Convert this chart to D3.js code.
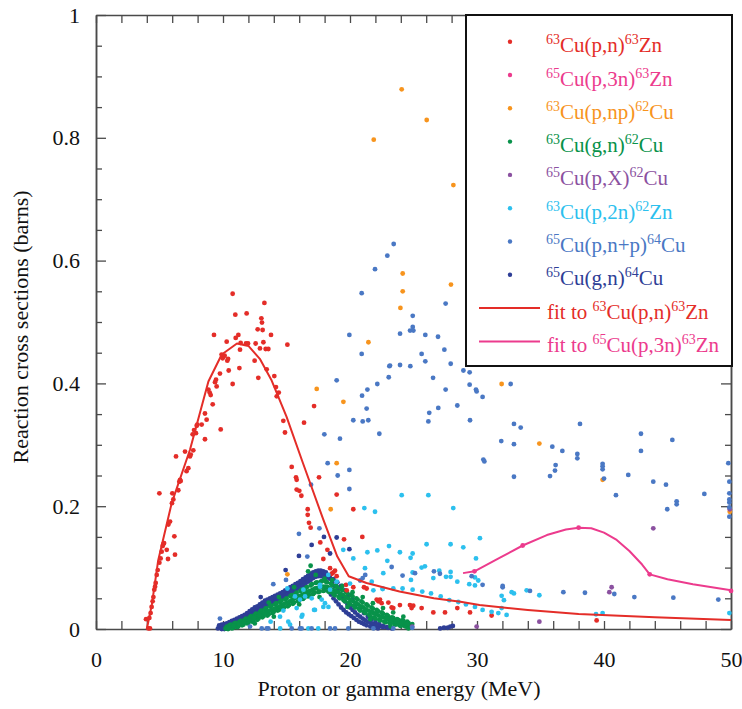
<!DOCTYPE html>
<html>
<head>
<meta charset="utf-8">
<script src="https://cdn.jsdelivr.net/npm/d3@7"></script>
<style>
body { margin: 0; background: #fff; }
</style>
</head>
<body>
<svg id="chart" width="742" height="709" font-family="Liberation Serif"></svg>
<script>
// ---- data (energy in MeV, cross section in barns) ----
var xTicks = [0, 10, 20, 30, 40, 50];
var xMinorTicks = [0, 2, 4, 6, 8, 10, 12, 14, 16, 18, 20, 22, 24, 26, 28, 30, 32, 34, 36, 38, 40, 42, 44, 46, 48, 50];
var yTicks = [0, 0.2, 0.4, 0.6, 0.8, 1];
var yMinorTicks = [0.05, 0.1, 0.15, 0.25, 0.3, 0.35, 0.45, 0.5, 0.55, 0.65, 0.7, 0.75, 0.85, 0.9, 0.95];

var seriesLabels = ["^63Cu(p,n)^63Zn", "^65Cu(p,3n)^63Zn", "^63Cu(p,np)^62Cu", "^63Cu(g,n)^62Cu",
    "^65Cu(p,X)^62Cu", "^63Cu(p,2n)^62Zn", "^65Cu(p,n+p)^64Cu", "^65Cu(g,n)^64Cu"];
var seriesColors = ["#e42d28", "#ec3b8d", "#f7941d", "#08924a", "#8b51a0", "#2cc0ee", "#4a78c4", "#2e3e96"];
var fitLabels = ["fit to ^63Cu(p,n)^63Zn", "fit to ^65Cu(p,3n)^63Zn"];
var fitColors = ["#e42d28", "#ec3b8d"];

var cu63pn = [[3.94,0.016],[4.12,0.001],[4.25,0.001],[4.2,0.018],[4.3,0.026],[4.38,0.036],[4.46,0.045],[4.52,0.052],
    [4.59,0.064],[4.65,0.069],[4.7,0.075],[4.78,0.088],[4.86,0.096],[4.99,0.108],[5.09,0.115],[5.17,0.126],[5.25,0.135],
    [5.3,0.138],[5.36,0.14],[4.99,0.221],[5.57,0.129],[5.67,0.114],[5.7,0.17],[5.83,0.175],[5.98,0.205],[6.01,0.221],
    [6.09,0.211],[6.17,0.151],[6.22,0.121],[6.3,0.281],[6.48,0.226],[6.56,0.24],[6.67,0.241],[6.62,0.243],[7.01,0.289],
    [7.13,0.257],[7.27,0.262],[7.4,0.281],[7.46,0.284],[7.66,0.291],[7.61,0.317],[7.72,0.324],[7.93,0.331],[7.87,0.319],
    [7.98,0.333],[8.32,0.333],[8.58,0.309],[8.58,0.351],[8.71,0.341],[8.85,0.39],[8.95,0.385],[9.03,0.381],[9.19,0.366],
    [9.29,0.479],[9.37,0.402],[9.45,0.406],[9.5,0.395],[9.76,0.416],[9.82,0.325],[9.89,0.447],[9.97,0.441],[10.13,0.445],
    [10.29,0.468],[10.34,0.437],[10.4,0.44],[10.45,0.421],[10.76,0.399],[10.76,0.546],[10.97,0.512],[11.0,0.474],
    [11.21,0.479],[11.29,0.425],[11.34,0.455],[11.39,0.466],[11.86,0.514],[11.81,0.465],[11.97,0.465],[12.49,0.437],
    [12.57,0.465],[12.73,0.488],[12.78,0.409],[12.91,0.457],[13.02,0.506],[13.07,0.499],[13.12,0.487],[13.18,0.467],
    [13.26,0.531],[13.36,0.456],[13.44,0.423],[13.57,0.456],[13.78,0.479],[14.04,0.412],[14.17,0.394],[14.23,0.379],
    [14.39,0.385],[14.75,0.339],[14.88,0.32],[15.07,0.463],[15.41,0.264],[15.75,0.247],[15.8,0.243],[15.8,0.227],
    [16.01,0.225],[16.17,0.217],[16.38,0.336],[16.67,0.195],[16.67,0.186],[16.77,0.173],[16.9,0.165],[17.17,0.363],
    [17.56,0.247],[17.66,0.141],[17.9,0.114],[18.22,0.129],[18.95,0.219],[18.43,0.099],[18.56,0.09],[18.69,0.092],
    [18.82,0.095],[18.95,0.086],[19.53,0.146],[19.69,0.072],[19.74,0.063],[20.26,0.195],[20.26,0.068],[20.97,0.15],
    [21.1,0.068],[21.31,0.066],[22.1,0.048],[22.23,0.045],[22.36,0.048],[22.49,0.042],[23.02,0.043],[23.28,0.035],
    [23.41,0.034],[23.93,0.039],[24.72,0.039],[24.85,0.034],[24.98,0.038],[25.64,0.034],[26.56,0.027],[27.48,0.027],
    [28.45,0.034],[29.45,0.027],[31.15,0.022],[39.42,0.014]];

var cu65p3n = [[29.8,0.094],[33.6,0.136],[38.0,0.165],[43.6,0.089],[50.0,0.062]];

var cu63pnp = [[15.07,0.089],[17.38,0.391],[18.48,0.195],[18.95,0.270],[19.48,0.370],[21.45,0.467],[21.87,0.797],
    [23.97,0.523],[24.07,0.879],[24.15,0.550],[24.15,0.579],[26.04,0.829],[27.95,0.561],[28.14,0.723],[31.94,0.399],
    [34.91,0.302],[39.89,0.243],[49.9,0.191]];

var cu63gn = [[10.2,0.001],[10.3,0.004],[10.4,0.000],[10.5,0.006],[10.6,0.007],[10.7,0.001],[10.8,0.002],[10.9,0.009],
    [11.0,0.010],[11.1,0.003],[11.2,0.004],[11.3,0.012],[11.4,0.013],[11.5,0.006],[11.6,0.007],[11.7,0.015],[11.8,0.017],
    [11.9,0.009],[12.0,0.010],[12.1,0.019],[12.2,0.021],[12.3,0.012],[12.4,0.013],[12.5,0.023],[12.6,0.025],[12.7,0.015],
    [12.8,0.017],[12.9,0.027],[13.0,0.030],[13.1,0.019],[13.2,0.021],[13.3,0.032],[13.4,0.034],[13.5,0.022],[13.6,0.024],
    [13.7,0.037],[13.8,0.038],[13.9,0.026],[14.0,0.028],[14.1,0.040],[14.2,0.042],[14.3,0.030],[14.4,0.031],[14.5,0.044],
    [14.6,0.046],[14.7,0.033],[14.8,0.035],[14.9,0.048],[15.0,0.050],[15.1,0.037],[15.2,0.039],[15.3,0.053],[15.4,0.055],
    [15.5,0.041],[15.6,0.043],[15.7,0.057],[15.8,0.059],[15.9,0.045],[16.0,0.047],[16.1,0.062],[16.2,0.064],[16.3,0.049],
    [16.4,0.051],[16.5,0.066],[16.6,0.068],[16.7,0.053],[16.8,0.055],[16.9,0.071],[17.0,0.073],[17.1,0.057],[17.2,0.059],
    [17.3,0.075],[17.4,0.076],[17.5,0.060],[17.6,0.061],[17.7,0.077],[17.8,0.078],[17.9,0.062],[18.0,0.063],[18.1,0.077],
    [18.2,0.076],[18.3,0.061],[18.4,0.060],[18.5,0.074],[18.6,0.072],[18.7,0.057],[18.8,0.055],[18.9,0.070],[19.0,0.068],
    [19.1,0.052],[19.2,0.050],[19.3,0.065],[19.4,0.063],[19.5,0.047],[19.6,0.045],[19.7,0.060],[19.8,0.058],[19.9,0.042],
    [20.0,0.040],[20.1,0.055],[20.2,0.053],[20.3,0.038],[20.4,0.035],[20.5,0.050],[20.6,0.048],[20.7,0.033],[20.8,0.030],
    [20.9,0.045],[21.0,0.043],[21.1,0.028],[21.2,0.026],[21.3,0.040],[21.4,0.038],[21.5,0.023],[21.6,0.021],[21.7,0.035],
    [21.8,0.033],[21.9,0.019],[22.0,0.017],[22.1,0.031],[22.2,0.029],[22.3,0.015],[22.4,0.014],[22.5,0.027],[22.6,0.025],
    [22.7,0.012],[22.8,0.011],[22.9,0.023],[23.0,0.021],[23.1,0.010],[23.2,0.009],[23.3,0.019],[23.4,0.018],[23.5,0.008],
    [23.6,0.007],[23.7,0.016],[23.8,0.015],[23.9,0.006],[24.0,0.005],[24.1,0.014],[24.2,0.013],[24.3,0.005],[24.4,0.004],
    [24.5,0.012],[24.6,0.010],[24.7,0.003],[24.8,0.003],[24.9,0.008],
    [10.25,0.001],[10.65,0.003],[11.05,0.006],[11.45,0.009],[11.85,0.012],[12.25,0.016],[12.65,0.020],[13.05,0.024],
    [13.45,0.028],[13.85,0.032],[14.25,0.035],[14.65,0.039],[15.05,0.043],[15.45,0.047],[15.85,0.052],[16.25,0.056],
    [16.65,0.060],[17.05,0.064],[17.45,0.067],[17.85,0.069],[18.25,0.068],[18.65,0.064],[19.05,0.060],[19.45,0.055],
    [19.85,0.050],[20.25,0.045],[20.65,0.040],[21.05,0.035],[21.45,0.030],[21.85,0.026],[22.25,0.022],[22.65,0.019],
    [23.05,0.016],[23.45,0.013],[23.85,0.011],[24.25,0.009],[24.65,0.007],[10.45,0.002],[10.85,0.005],[11.25,0.008],
    [11.65,0.011],[12.05,0.014],[12.45,0.018],[12.85,0.022],[13.25,0.026],[13.65,0.030],[14.05,0.033],[14.45,0.037],
    [14.85,0.041],[15.25,0.045],[15.65,0.050],[16.05,0.054],[16.45,0.058],[16.85,0.062],[17.25,0.066],[17.65,0.068],
    [18.05,0.069],[18.45,0.066],[18.85,0.062],[19.25,0.057],[19.65,0.052],[20.05,0.047],[20.45,0.042],[20.85,0.037],
    [21.25,0.032],[21.65,0.028],[22.05,0.024],[22.45,0.020],[22.85,0.017],[23.25,0.014],[23.65,0.012],[24.05,0.010],
    [24.45,0.008],[24.85,0.006],
    [16.9,0.103],[16.7,0.094],[17.3,0.088],[18.0,0.082],[18.6,0.080],[15.6,0.068],[14.4,0.052],[13.6,0.043],[19.4,0.070],
    [20.2,0.060],[21.0,0.052],[21.8,0.042],[22.6,0.034],[23.4,0.027],[24.2,0.020],[12.5,0.009],[14.0,0.020],[16.0,0.040],
    [17.6,0.052],[19.8,0.036],[21.6,0.016],[23.2,0.004],[24.6,0.001]];

var cu65pX = [[24.9,0.004],[29.97,0.004],[34.91,0.012],[40.42,0.06],[40.6,0.068],[43.88,0.164],[49.9,0.195]];

var cu63p2n = [[24.07,0.218],[26.17,0.218],[28.13,0.197],[30.23,0.148],[21.13,0.197],[21.97,0.191],[23.07,0.135],
    [26.03,0.138],[27.92,0.138],[28.92,0.133],[23.93,0.125],[24.93,0.123],[24.77,0.116],[22.94,0.111],[29.92,0.115],
    [25.64,0.1],[25.9,0.102],[24.93,0.092],[24.8,0.08],[26.56,0.083],[27.03,0.095],[27.56,0.085],[27.92,0.085],
    [27.92,0.093],[28.45,0.077],[29.84,0.084],[30.1,0.079],[29.39,0.073],[29.84,0.071],[22.57,0.065],[23.41,0.066],
    [24.14,0.066],[24.93,0.064],[25.69,0.061],[26.38,0.058],[27.14,0.053],[27.82,0.047],[28.53,0.044],[29.13,0.04],
    [29.84,0.036],[30.44,0.031],[31.15,0.028],[31.68,0.026],[32.33,0.023],[31.94,0.034],[31.94,0.054],[32.12,0.047],
    [32.73,0.06],[32.91,0.058],[33.91,0.063],[34.91,0.055],[39.37,0.024],[39.89,0.026],[49.87,0.026],[19.47,0.129],
    [20.26,0.115],[21.37,0.125],[22.15,0.128],[21.18,0.099],[22.62,0.091],[18.95,0.077],[18.29,0.088],[17.64,0.072],
    [18.43,0.064],[20.0,0.074],[16.06,0.048],[15.07,0.066],[15.8,0.034],[17.24,0.031],[17.9,0.036],[18.03,0.042],
    [21.71,0.077],[21.84,0.063],[22.57,0.066],[15.28,0.007],[15.14,0.012],[13.75,0.012],[15.67,0.053],[16.46,0.053],
    [16.98,0.05],[17.77,0.048],[16.25,0.023],[14.75,0.03],[14.49,0.02],[16.19,0.02],[17.17,0.031],[18.3,0.036],
    [16.33,0.064],[17.64,0.069],[16.72,0.001],[14.5,0.001],[17.5,0.001]];

var cu65pnp = [[18.95,0.405],[19.95,0.479],[20.92,0.547],[20.92,0.448],[20.95,0.38],[21.37,0.39],[21.31,0.359],
    [21.97,0.586],[22.15,0.399],[22.31,0.318],[22.94,0.608],[23.05,0.41],[23.10,0.428],[23.15,0.429],[23.44,0.627],
    [23.94,0.481],[23.94,0.43],[24.73,0.486],[24.75,0.428],[24.94,0.51],[24.94,0.492],[24.99,0.486],[25.64,0.448],
    [25.93,0.479],[25.93,0.436],[26.17,0.338],[26.24,0.352],[26.54,0.409],[26.93,0.476],[26.95,0.36],[27.43,0.455],
    [27.53,0.53],[27.53,0.39],[27.93,0.432],[28.45,0.364],[28.93,0.421],[29.42,0.418],[29.42,0.398],[29.45,0.34],
    [29.92,0.39],[29.97,0.387],[30.44,0.378],[30.5,0.276],[30.58,0.273],[31.91,0.306],[32.65,0.399],[32.91,0.334],
    [32.91,0.301],[32.91,0.248],[33.44,0.328],[35.75,0.249],[35.93,0.297],[36.14,0.258],[36.19,0.267],[36.72,0.29],
    [37.9,0.285],[37.9,0.278],[38.11,0.334],[39.89,0.269],[39.89,0.265],[39.89,0.26],[40.0,0.245],[40.94,0.218],
    [41.91,0.251],[42.91,0.318],[42.91,0.29],[43.88,0.24],[44.88,0.235],[44.98,0.195],[45.38,0.308],[45.72,0.208],
    [45.72,0.203],[47.9,0.22],[49.79,0.27],[49.87,0.24],[49.87,0.221],[49.87,0.211],[49.87,0.206],[49.87,0.198],
    [49.87,0.183],[20.26,0.34],[21.0,0.338],[21.44,0.34],[17.98,0.317],[19.21,0.31],[18.24,0.27],[19.03,0.25],
    [19.95,0.259],[19.95,0.228],[16.93,0.235],[17.59,0.164],[15.98,0.155],[16.64,0.118],[13.96,0.073],[14.96,0.08],
    [21.2,0.088],[21.0,0.083],[20.8,0.079],[23.28,0.101],[24.14,0.087],[25.12,0.091],[26.61,0.094],[27.08,0.09],
    [29.58,0.086],[30.44,0.072],[32.02,0.07],[32.02,0.068],[34.17,0.062],[36.8,0.06],[38.5,0.059],[40.81,0.057],
    [42.39,0.052],[45.46,0.051],[49.0,0.048],[12.13,0.004],[13.05,0.001],[13.44,0.001],[13.57,0.001],[15.41,0.001],
    [16.06,0.001],[16.19,0.001],[16.98,0.001],[18.43,0.001],[18.82,0.001],[19.87,0.001],[21.84,0.001],[23.41,0.001],
    [9.76,0.017],[24.9,0.002]];

var cu65gn = [[9.6,0.001],[9.8,0.002],[10.0,0.003],[10.2,0.004],[10.4,0.005],[10.6,0.007],[10.8,0.009],[11.0,0.011],
    [11.2,0.013],[11.4,0.015],[11.6,0.017],[11.8,0.020],[12.0,0.023],[12.2,0.026],[12.4,0.029],[12.6,0.031],[12.8,0.034],
    [13.0,0.037],[13.2,0.040],[13.4,0.042],[13.6,0.044],[13.8,0.046],[14.0,0.048],[14.2,0.050],[14.4,0.052],[14.6,0.054],
    [14.8,0.057],[15.0,0.059],[15.2,0.061],[15.4,0.064],[15.6,0.066],[15.8,0.069],[16.0,0.071],[16.2,0.074],[16.4,0.077],
    [16.6,0.080],[16.8,0.083],[17.0,0.086],[17.2,0.088],[17.4,0.089],[17.6,0.090],[17.8,0.090],[18.0,0.089],[18.2,0.087],
    [9.7,0.006],[9.9,0.007],[10.1,0.008],[10.3,0.009],[10.5,0.011],[10.7,0.013],[10.9,0.015],[11.1,0.017],[11.3,0.019],
    [11.5,0.021],[11.7,0.023],[11.9,0.026],[12.1,0.029],[12.3,0.032],[12.5,0.035],[12.7,0.037],[12.9,0.040],[13.1,0.043],
    [13.3,0.046],[13.5,0.048],[13.7,0.050],[13.9,0.052],[14.1,0.054],[14.3,0.056],[14.5,0.058],[14.7,0.060],[14.9,0.063],
    [15.1,0.065],[15.3,0.068],[15.5,0.070],[15.7,0.073],[15.9,0.075],[16.1,0.078],[16.3,0.081],[16.5,0.084],[16.7,0.087],
    [16.9,0.090],[17.1,0.092],[17.3,0.094],[17.5,0.095],[17.7,0.095],[17.9,0.094],[18.1,0.092],
    [9.9,0.000],[10.1,0.000],[10.3,0.001],[10.5,0.002],[10.7,0.004],[10.9,0.006],[11.1,0.008],[11.3,0.010],[11.5,0.012],
    [11.7,0.014],[11.9,0.017],[12.1,0.020],[12.3,0.023],[12.5,0.026],[12.7,0.028],[12.9,0.031],[13.1,0.034],[13.3,0.037],
    [13.5,0.039],[13.7,0.041],[13.9,0.043],[14.1,0.045],[14.3,0.047],[14.5,0.049],[14.7,0.051],[14.9,0.054],[15.1,0.056],
    [15.3,0.058],[15.5,0.061],[15.7,0.063],[15.9,0.066],[16.1,0.068],[16.3,0.071],[16.5,0.074],[16.7,0.077],[16.9,0.080],
    [17.1,0.083],[17.3,0.085],[17.5,0.086],[17.7,0.086],[17.9,0.085],[18.1,0.083],
    [18.4,0.085],[18.7,0.081],[19.0,0.076],[19.3,0.070],[19.6,0.063],[19.9,0.055],[20.2,0.047],[20.5,0.040],[20.8,0.033],
    [21.1,0.026],[21.4,0.020],[21.7,0.015],[22.0,0.011],[22.3,0.008],[22.6,0.005],[22.9,0.003],
    [18.4,0.082],[18.6,0.076],[18.8,0.070],[19.0,0.063],[19.2,0.057],[19.4,0.051],[19.6,0.045],[19.8,0.040],[20.0,0.035],
    [20.2,0.031],[20.4,0.027],[20.6,0.023],[20.8,0.020],[21.0,0.017],[21.2,0.014],[21.4,0.012],[21.6,0.010],[21.8,0.008],
    [22.0,0.006],[22.3,0.004],[22.6,0.003],[23.0,0.002],[23.3,0.001],
    [18.1,0.068],[18.3,0.062],[18.5,0.056],[18.7,0.050],[18.9,0.045],[19.1,0.040],[19.3,0.035],[19.5,0.031],[19.7,0.027],
    [19.9,0.024],[20.1,0.021],[20.3,0.018],[20.5,0.015],[20.7,0.012],[20.9,0.010],[21.1,0.008],[21.3,0.006],[21.6,0.004],
    [21.9,0.002],[22.2,0.001],
    [12.97,0.052],[14.93,0.096],[15.98,0.119],[16.98,0.137],[17.95,0.150],[18.95,0.149],[18.43,0.123],[19.95,0.130],
    [27.1,0.001],[27.4,0.002],[27.7,0.002],[27.9,0.004],[28.1,0.005]];

var fitPn = [[4.0,0.0],[4.4,0.04],[4.9,0.112],[5.96,0.205],[7.4,0.292],[8.85,0.403],[9.9,0.447],[11.1,0.465],
    [12.0,0.461],[12.9,0.44],[13.8,0.406],[15.0,0.346],[16.3,0.27],[17.9,0.178],[19.0,0.118],[19.9,0.086],[21.3,0.075],
    [23.9,0.061],[26.6,0.05],[28.7,0.0445],[30.2,0.039],[34,0.031],[38,0.0244],[44,0.019],[50,0.0147]];
var fitP3n = [[28.9,0.091],[29.8,0.094],[31.7,0.115],[33.6,0.136],[35.5,0.153],[37,0.162],[38,0.165],[39,0.164],
    [40,0.157],[41,0.145],[42,0.127],[43,0.105],[43.6,0.089],[45,0.081],[47,0.073],[50,0.063]];

var seriesValues = [cu63pn, cu65p3n, cu63pnp, cu63gn, cu65pX, cu63p2n, cu65pnp, cu65gn];
var fitValues = [fitPn, fitP3n];
// photon bands first so the proton points sit on top of them
var drawOrder = [7, 3, 0, 2, 4, 5, 6, 1];

// ---- layout ----
var width = 742, height = 709;
var axisColor = "#4a4a4a";
var fontFamily = "Liberation Serif";

var x = d3.scaleLinear().domain([0, 50]).range([96, 731]);
var y = d3.scaleLinear().domain([0, 1]).range([629, 15]);

var svg = d3.select("#chart");
svg.append("rect").attr("width", width).attr("height", height).attr("fill", "#fff");

function styleAxis(g) {
    g.attr("font-family", fontFamily).attr("font-size", 22).attr("color", "#111");
    g.select(".domain").attr("stroke", axisColor).attr("stroke-width", 1.5);
    g.selectAll(".tick line").attr("stroke", axisColor).attr("stroke-width", 1.3);
    g.selectAll(".tick text").attr("font-family", fontFamily);
}

// x axes (bottom with labels, top ticks only)
svg.append("g").attr("transform", "translate(0,629)")
    .call(d3.axisBottom(x).tickValues(xMinorTicks).tickSize(-8).tickSizeOuter(0).tickPadding(22)
        .tickFormat(d => xTicks.includes(d) ? d : ""))
    .call(styleAxis);
svg.append("g").attr("transform", "translate(0,15)")
    .call(d3.axisTop(x).tickValues(xMinorTicks).tickSize(-8).tickSizeOuter(0).tickFormat(""))
    .call(styleAxis);

// y axes: minor ticks then major ticks with labels
svg.append("g").attr("transform", "translate(96,0)")
    .call(d3.axisLeft(y).tickValues(yMinorTicks).tickSize(-6).tickSizeOuter(0).tickFormat(""))
    .call(styleAxis);
svg.append("g").attr("transform", "translate(96,0)")
    .call(d3.axisLeft(y).tickValues(yTicks).tickSize(-10).tickSizeOuter(0).tickPadding(16).tickFormat(d3.format("~g")))
    .call(styleAxis);
svg.append("g").attr("transform", "translate(731,0)")
    .call(d3.axisRight(y).tickValues(yMinorTicks).tickSize(-6).tickSizeOuter(0).tickFormat(""))
    .call(styleAxis);
svg.append("g").attr("transform", "translate(731,0)")
    .call(d3.axisRight(y).tickValues(yTicks).tickSize(-10).tickSizeOuter(0).tickFormat(""))
    .call(styleAxis);

// axis titles
svg.append("text")
    .attr("x", 399).attr("y", 696)
    .attr("text-anchor", "middle").attr("font-size", 22).attr("fill", "#111")
    .attr("font-family", fontFamily)
    .text("Proton or gamma energy (MeV)");
svg.append("text")
    .attr("transform", "translate(28,327) rotate(-90)")
    .attr("text-anchor", "middle").attr("font-size", 22).attr("fill", "#111")
    .attr("font-family", fontFamily)
    .text("Reaction cross sections (barns)");

// scatter points
drawOrder.forEach(function(i) {
    svg.append("g").attr("class", "series-" + i)
        .selectAll("circle")
        .data(seriesValues[i])
        .join("circle")
        .attr("cx", d => x(d[0]))
        .attr("cy", d => y(d[1]))
        .attr("r", 2.4)
        .attr("fill", seriesColors[i]);
});

// fitted curves
var line = d3.line().x(d => x(d[0])).y(d => y(d[1]));
fitValues.forEach(function(vals, i) {
    svg.append("path")
        .attr("d", line(vals))
        .attr("fill", "none")
        .attr("stroke", fitColors[i])
        .attr("stroke-width", 2)
        .attr("stroke-linejoin", "round");
});

// ---- legend ----
function addLabel(textSel, label) {
    var parts = label.split(/(\^\d+)/).filter(p => p.length);
    var raised = false;
    parts.forEach(function(p) {
        if (p[0] === "^") {
            textSel.append("tspan").attr("font-size", 14).attr("dy", raised ? 0 : -8).text(p.slice(1));
            raised = true;
        } else {
            textSel.append("tspan").attr("font-size", 21).attr("dy", raised ? 8 : 0).text(p);
            raised = false;
        }
    });
}

var legend = svg.append("g").attr("class", "legend").attr("font-family", fontFamily);
legend.append("rect")
    .attr("x", 466).attr("y", 15).attr("width", 266).attr("height", 351)
    .attr("fill", "#fff").attr("stroke", "#111").attr("stroke-width", 2);

var rowY = i => 41.7 + 33.3 * i;
seriesLabels.forEach(function(label, i) {
    legend.append("circle")
        .attr("cx", 510).attr("cy", rowY(i)).attr("r", 2.2)
        .attr("fill", seriesColors[i]);
    var t = legend.append("text")
        .attr("x", 546).attr("y", rowY(i) + 10.5)
        .attr("fill", seriesColors[i]);
    addLabel(t, label);
});
fitLabels.forEach(function(label, j) {
    var i = seriesLabels.length + j;
    legend.append("line")
        .attr("x1", 479).attr("x2", 540).attr("y1", rowY(i)).attr("y2", rowY(i))
        .attr("stroke", fitColors[j]).attr("stroke-width", 2);
    var t = legend.append("text")
        .attr("x", 547).attr("y", rowY(i) + 10.5)
        .attr("fill", fitColors[j]);
    addLabel(t, label);
});
</script>
</body>
</html>
